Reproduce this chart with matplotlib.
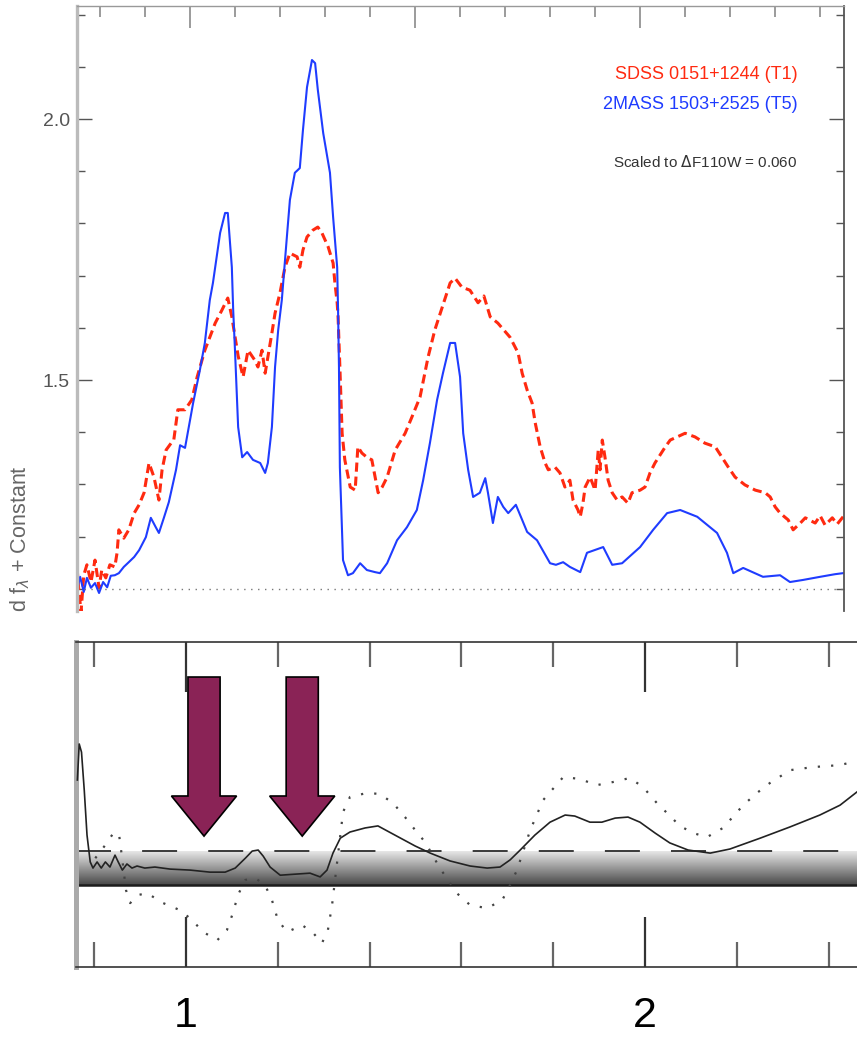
import numpy as np
import matplotlib
matplotlib.use("Agg")
import matplotlib.pyplot as plt
from matplotlib.ticker import MultipleLocator, FormatStrFormatter
from matplotlib.transforms import Bbox, TransformedBbox

plt.rcParams['font.family'] = ['Liberation Sans', 'DejaVu Sans']

# ---- upper panel: two T dwarf spectra (wavelength in micron, scaled flux) ----
t5_wave = [0.749, 0.756, 0.764, 0.771, 0.780, 0.789, 0.798, 0.807, 0.816, 0.824,
           0.833, 0.842, 0.853, 0.864, 0.876, 0.887, 0.902, 0.913, 0.924, 0.931,
           0.942, 0.953, 0.969, 0.978, 0.989, 1.007, 1.022, 1.033, 1.044, 1.051,
           1.067, 1.078, 1.084, 1.093, 1.096, 1.100, 1.107, 1.116, 1.127, 1.140,
           1.156, 1.167, 1.173, 1.182, 1.189, 1.196, 1.204, 1.216, 1.222, 1.233,
           1.244, 1.251, 1.260, 1.271, 1.278, 1.284, 1.296, 1.311, 1.318, 1.327,
           1.329, 1.331, 1.333, 1.340, 1.351, 1.362, 1.378, 1.393, 1.411, 1.422,
           1.438, 1.460, 1.482, 1.504, 1.518, 1.533, 1.549, 1.562, 1.578, 1.589,
           1.600, 1.607, 1.618, 1.629, 1.644, 1.656, 1.662, 1.673, 1.684, 1.696,
           1.707, 1.724, 1.738, 1.749, 1.771, 1.800, 1.813, 1.829, 1.844, 1.867,
           1.882, 1.918, 1.938, 1.960, 2.000, 2.029, 2.060, 2.089, 2.127, 2.171,
           2.193, 2.207, 2.229, 2.273, 2.311, 2.333, 2.362, 2.400, 2.433, 2.451]
t5_flux = [1.098, 1.123, 1.094, 1.121, 1.102, 1.111, 1.092, 1.113, 1.103, 1.125,
           1.126, 1.130, 1.142, 1.151, 1.161, 1.174, 1.199, 1.236, 1.218, 1.207,
           1.236, 1.266, 1.328, 1.375, 1.370, 1.456, 1.519, 1.571, 1.653, 1.686,
           1.782, 1.820, 1.820, 1.716, 1.634, 1.557, 1.410, 1.352, 1.362, 1.347,
           1.341, 1.322, 1.341, 1.410, 1.525, 1.596, 1.653, 1.782, 1.845, 1.897,
           1.906, 1.979, 2.061, 2.113, 2.107, 2.056, 1.973, 1.897, 1.812, 1.716,
           1.634, 1.525, 1.333, 1.155, 1.126, 1.130, 1.149, 1.136, 1.132, 1.130,
           1.149, 1.193, 1.218, 1.251, 1.308, 1.379, 1.462, 1.513, 1.571, 1.571,
           1.506, 1.398, 1.328, 1.276, 1.284, 1.312, 1.284, 1.226, 1.276, 1.257,
           1.245, 1.261, 1.232, 1.209, 1.193, 1.149, 1.146, 1.151, 1.142, 1.132,
           1.169, 1.180, 1.146, 1.149, 1.180, 1.213, 1.245, 1.251, 1.238, 1.207,
           1.169, 1.130, 1.140, 1.123, 1.126, 1.113, 1.117, 1.123, 1.128, 1.130]

t1_wave = [0.749, 0.753, 0.758, 0.764, 0.771, 0.780, 0.789, 0.798, 0.804, 0.813,
           0.822, 0.833, 0.838, 0.842, 0.853, 0.864, 0.876, 0.887, 0.898, 0.909,
           0.920, 0.931, 0.938, 0.947, 0.958, 0.964, 0.973, 0.989, 1.004, 1.016,
           1.033, 1.056, 1.071, 1.084, 1.093, 1.100, 1.107, 1.118, 1.129, 1.144,
           1.151, 1.160, 1.167, 1.173, 1.182, 1.189, 1.200, 1.211, 1.222, 1.238,
           1.244, 1.251, 1.260, 1.273, 1.284, 1.293, 1.307, 1.318, 1.322, 1.327,
           1.329, 1.333, 1.338, 1.344, 1.356, 1.367, 1.373, 1.382, 1.393, 1.404,
           1.418, 1.427, 1.438, 1.456, 1.478, 1.493, 1.511, 1.529, 1.544, 1.562,
           1.578, 1.589, 1.604, 1.622, 1.640, 1.653, 1.667, 1.684, 1.711, 1.729,
           1.738, 1.749, 1.760, 1.767, 1.778, 1.789, 1.796, 1.811, 1.822, 1.833,
           1.844, 1.851, 1.862, 1.867, 1.873, 1.878, 1.889, 1.900, 1.907, 1.911,
           1.916, 1.922, 1.929, 1.938, 1.949, 1.960, 1.973, 1.982, 2.000, 2.011,
           2.022, 2.033, 2.044, 2.056, 2.067, 2.082, 2.100, 2.122, 2.144, 2.167,
           2.182, 2.196, 2.211, 2.233, 2.256, 2.278, 2.289, 2.300, 2.311, 2.329,
           2.340, 2.356, 2.367, 2.389, 2.400, 2.411, 2.427, 2.438, 2.451]
t1_flux = [1.142, 1.098, 1.056, 1.126, 1.146, 1.113, 1.155, 1.102, 1.136, 1.121,
           1.146, 1.142, 1.169, 1.213, 1.197, 1.213, 1.245, 1.261, 1.284, 1.341,
           1.314, 1.270, 1.328, 1.366, 1.379, 1.385, 1.443, 1.443, 1.462, 1.506,
           1.557, 1.609, 1.634, 1.657, 1.621, 1.584, 1.546, 1.506, 1.557, 1.538,
           1.525, 1.557, 1.513, 1.544, 1.590, 1.628, 1.667, 1.716, 1.743, 1.736,
           1.716, 1.749, 1.774, 1.787, 1.793, 1.782, 1.755, 1.724, 1.686, 1.648,
           1.621, 1.525, 1.398, 1.347, 1.295, 1.289, 1.372, 1.360, 1.352, 1.347,
           1.284, 1.295, 1.314, 1.366, 1.398, 1.429, 1.467, 1.544, 1.596, 1.644,
           1.686, 1.695, 1.678, 1.672, 1.648, 1.661, 1.621, 1.609, 1.582, 1.552,
           1.513, 1.481, 1.456, 1.418, 1.372, 1.341, 1.328, 1.333, 1.322, 1.295,
           1.308, 1.270, 1.251, 1.238, 1.264, 1.295, 1.314, 1.289, 1.366, 1.328,
           1.385, 1.352, 1.308, 1.284, 1.270, 1.276, 1.264, 1.284, 1.289, 1.295,
           1.322, 1.341, 1.356, 1.372, 1.385, 1.391, 1.398, 1.391, 1.379, 1.372,
           1.352, 1.333, 1.314, 1.299, 1.289, 1.284, 1.276, 1.257, 1.245, 1.232,
           1.213, 1.226, 1.236, 1.226, 1.240, 1.222, 1.236, 1.224, 1.238]

baseline = 1.10
t1_label = "SDSS 0151+1244 (T1)"
t5_label = "2MASS 1503+2525 (T5)"
scale_note = r"Scaled to $\Delta$F110W = 0.060"

# ---- lower panel: response curves ----
solid_x = [0.763, 0.767, 0.772, 0.778, 0.784, 0.791, 0.797, 0.806, 0.815, 0.824,
           0.834, 0.845, 0.852, 0.861, 0.871, 0.882, 0.893, 0.910, 0.932, 0.965,
           1.009, 1.052, 1.085, 1.107, 1.129, 1.144, 1.157, 1.168, 1.183, 1.205,
           1.237, 1.270, 1.292, 1.307, 1.320, 1.336, 1.357, 1.390, 1.418, 1.455,
           1.499, 1.532, 1.575, 1.619, 1.656, 1.684, 1.706, 1.728, 1.760, 1.793,
           1.826, 1.847, 1.880, 1.906, 1.935, 1.963, 1.989, 2.022, 2.054, 2.094,
           2.142, 2.185, 2.251, 2.316, 2.381, 2.425, 2.462]
solid_y = [3.09, 4.15, 3.91, 2.79, 1.47, 0.68, 0.50, 0.68, 0.50, 0.68,
           0.53, 0.88, 0.68, 0.44, 0.62, 0.50, 0.56, 0.50, 0.53, 0.47,
           0.44, 0.38, 0.38, 0.50, 0.79, 1.00, 1.03, 0.85, 0.53, 0.29,
           0.32, 0.35, 0.24, 0.44, 0.94, 1.38, 1.56, 1.68, 1.74, 1.47,
           1.15, 0.94, 0.71, 0.56, 0.50, 0.53, 0.74, 1.03, 1.47, 1.85,
           2.06, 2.03, 1.85, 1.85, 1.97, 2.00, 1.85, 1.53, 1.24, 1.03,
           0.94, 1.06, 1.38, 1.71, 2.06, 2.35, 2.74]

dotted_x = [0.802, 0.824, 0.843, 0.854, 0.861, 0.869, 0.878, 0.896, 0.915, 0.932,
            0.950, 0.987, 1.013, 1.037, 1.068, 1.089, 1.102, 1.113, 1.129, 1.150,
            1.172, 1.187, 1.200, 1.220, 1.253, 1.277, 1.296, 1.309, 1.318, 1.327,
            1.342, 1.357, 1.394, 1.422, 1.451, 1.477, 1.499, 1.521, 1.553, 1.590,
            1.619, 1.656, 1.689, 1.706, 1.721, 1.750, 1.778, 1.822, 1.858, 1.895,
            1.930, 1.967, 1.996, 2.026, 2.048, 2.076, 2.105, 2.135, 2.170, 2.214,
            2.244, 2.272, 2.316, 2.366, 2.425, 2.462]
dotted_y = [0.79, 1.18, 1.56, 1.47, 0.74, -0.15, -0.53, -0.29, -0.24, -0.38,
            -0.53, -0.74, -1.03, -1.38, -1.62, -1.32, -0.82, -0.29, 0.15, 0.21,
            0.00, -0.44, -1.03, -1.38, -1.18, -1.41, -1.71, -1.32, -0.59, 0.44,
            2.15, 2.59, 2.71, 2.68, 2.41, 2.00, 1.62, 1.26, 0.50, -0.24,
            -0.59, -0.68, -0.44, 0.00, 0.44, 1.62, 2.50, 3.18, 3.12, 2.94,
            3.03, 3.15, 2.88, 2.41, 2.12, 1.74, 1.53, 1.41, 1.68, 2.35,
            2.71, 3.00, 3.38, 3.47, 3.53, 3.65]

arrow_x = [1.039, 1.253]
arrow_top, arrow_tip = 6.12, 1.44
bottom_ticklabels = ["1", "2"]

W, H = 857, 1040
fig = plt.figure(figsize=(W / 100, H / 100), dpi=100)


def frac(x0, y0, x1, y1):
    # pixel box (top-left origin) -> figure fraction rect
    return [x0 / W, 1 - y1 / H, (x1 - x0) / W, (y1 - y0) / H]


# upper panel
ax = fig.add_axes(frac(77, 6, 844, 611))
ax.plot(t1_wave, t1_flux, color='#ff2a10', lw=2.2, ls=(0, (3, 1.6)))
ax.plot(t5_wave, t5_flux, color='#1f3cff', lw=1.5)
ax.axhline(baseline, color='#777777', lw=1.0, ls=(0, (1, 4)))
ax.set_xlim(0.749, 2.453)
ax.set_ylim(1.0575, 2.2165)

ax.xaxis.set_major_locator(MultipleLocator(0.5))
ax.xaxis.set_minor_locator(MultipleLocator(0.1))
ax.yaxis.set_major_locator(MultipleLocator(0.5))
ax.yaxis.set_minor_locator(MultipleLocator(0.1))
ax.yaxis.set_major_formatter(FormatStrFormatter('%.1f'))
ax.tick_params(axis='x', which='both', direction='in', top=True, bottom=False,
               labelbottom=False, labeltop=False, color='#8a8a8a', width=1.2)
ax.tick_params(axis='x', which='major', length=16)
ax.tick_params(axis='x', which='minor', length=8)
ax.tick_params(axis='y', which='both', direction='in', left=True, right=True,
               color='#555555', width=1.0, labelsize=14, labelcolor='#555555', pad=5)
ax.tick_params(axis='y', which='major', length=11)
ax.tick_params(axis='y', which='minor', length=6)
ax.spines['bottom'].set_visible(False)
ax.spines['left'].set_color('#bbbbbb')
ax.spines['left'].set_linewidth(2.4)
ax.spines['top'].set_color('#999999')
ax.spines['top'].set_linewidth(1.0)
ax.spines['right'].set_color('#555555')
ax.spines['right'].set_linewidth(1.3)

ax.text(0.939, 0.886, t1_label, transform=ax.transAxes, ha='right', va='center',
        color='#ff2a10', fontsize=13)
ax.text(0.939, 0.838, t5_label, transform=ax.transAxes, ha='right', va='center',
        color='#1f3cff', fontsize=13)
ax.text(0.939, 0.742, scale_note, transform=ax.transAxes, ha='right', va='center',
        color='#333333', fontsize=11)

# y label runs past the bottom of the panel, so clip it there
ylab = fig.text(20 / W, 1 - 465 / H, r"Normalized f$_\lambda$ + Constant",
                rotation=90, ha='center', va='top', color='#666666', fontsize=15.5)
ylab.set_clip_box(TransformedBbox(Bbox.from_extents(0, 1 - 612 / H, 1, 1),
                                  fig.transFigure))
ylab.set_clip_on(True)

# lower panel
bx = fig.add_axes(frac(76, 642, 857, 967))
bx.set_xlim(0.760, 2.462)
bx.set_ylim(-2.41, 7.15)

grad = np.linspace(0, 1, 200).reshape(-1, 1)
bx.imshow(grad, extent=[0.760, 2.462, 0, 1], origin='lower', aspect='auto',
          cmap='gray', vmin=-0.45, vmax=1.15, zorder=1, interpolation='bilinear')
bx.axhline(0, color='#1c1c1c', lw=1.8, zorder=2)
bx.axhline(1, color='#3a3a3a', lw=1.4, ls=(0, (18, 16)), zorder=2)
bx.plot(solid_x, solid_y, color='#222222', lw=1.2, zorder=3)
bx.plot(dotted_x, dotted_y, color='#444444', lw=1.6, ls=(0, (1, 5)), zorder=3)

for xa in arrow_x:
    bx.arrow(xa, arrow_top, 0, arrow_tip - arrow_top, width=0.070,
             head_width=0.142, head_length=1.18, length_includes_head=True,
             fc='#8a2356', ec='black', lw=1.2, zorder=5)

bx.set_xticks([1, 2])
bx.set_xticklabels(bottom_ticklabels)
bx.xaxis.set_minor_locator(MultipleLocator(0.2))
bx.set_yticks([])
bx.tick_params(axis='x', which='both', direction='in', top=True, bottom=True,
               width=1.6, labelsize=31, pad=21)
bx.tick_params(axis='x', which='major', length=36, color='#333333')
bx.tick_params(axis='x', which='minor', length=18, color='#666666')
bx.spines['right'].set_visible(False)
bx.spines['left'].set_color('#aaaaaa')
bx.spines['left'].set_linewidth(3.6)
bx.spines['top'].set_color('#333333')
bx.spines['bottom'].set_color('#333333')
bx.spines['top'].set_linewidth(1.2)
bx.spines['bottom'].set_linewidth(1.2)

fig.savefig("out.png", dpi=100)
